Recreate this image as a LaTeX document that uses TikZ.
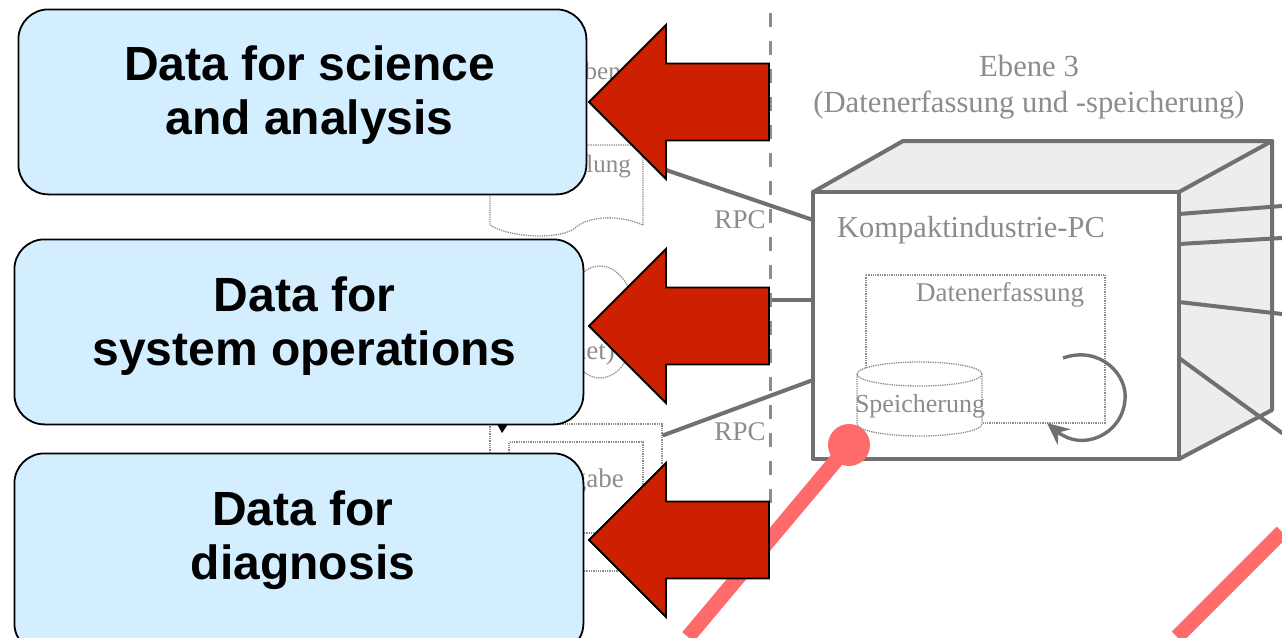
\documentclass[tikz,border=0pt]{standalone}
\usepackage{fontspec}
\setmainfont{Liberation Sans}
\newfontfamily\ghostfont{Liberation Serif}
\usepackage{tikz}
\usetikzlibrary{positioning, arrows.meta}

\definecolor{boxblue}{HTML}{D3EFFF}
\definecolor{arrowred}{HTML}{CC2000}
\definecolor{ghostgray}{HTML}{8C8C8C}
\definecolor{wiregray}{HTML}{707070}
\definecolor{facegray}{HTML}{EDEDED}
\definecolor{bandpink}{HTML}{FF6A6A}

\tikzset{
  databox/.style={draw=black, line width=1.8pt, fill=boxblue, rounded corners=30pt, inner sep=0pt, anchor=north west},
  datatext/.style={font=\bfseries\fontsize{48}{53.5}\selectfont, align=center, text=black, inner sep=0pt},
  ghost/.style={font=\ghostfont\fontsize{30.7}{35}\selectfont, text=ghostgray, inner sep=0pt, align=center},
  ghostsmall/.style={font=\ghostfont\fontsize{27}{32}\selectfont, text=ghostgray, inner sep=0pt},
  ghostline/.style={draw=ghostgray, line width=1.3pt, densely dotted},
  wire/.style={draw=wiregray, line width=4pt, line join=round, line cap=round},
  band/.style={draw=bandpink, line width=15pt},
}

\begin{document}
\begin{tikzpicture}[x=1pt, y=-1pt]
    \useasboundingbox (0,0) rectangle (1282,637);
    \clip (0,0) rectangle (1282,637);

    % Corners of the PC
    \coordinate (frontnw) at (813,192);
    \coordinate (frontne) at (1179,192);
    \coordinate (frontse) at (1179,459);
    \coordinate (frontsw) at (813,459);
    \coordinate (backnw) at (903,141);
    \coordinate (backne) at (1272,141);
    \coordinate (backse) at (1272,410);

    % Draw grey faces and outline
    \fill[facegray] (frontnw) -- (backnw) -- (backne) -- (frontne) -- cycle;
    \fill[facegray] (frontne) -- (backne) -- (backse) -- (frontse) -- cycle;
    \draw[wire] (frontnw) -- (backnw) -- (backne) -- (backse) -- (frontse);
    \draw[wire] (frontne) -- (backne);
    \draw[wire] (frontnw) rectangle (frontse);

    % Wires leaving the PC
    \foreach \a/\b/\c/\d in {1179/214/1282/206, 1179/244/1282/238, 1179/302/1282/314, 1179/358/1282/433, 813/220/666/170, 813/300/666/300, 813/380/664/435} {
      \draw[wire] (\a,\b) -- (\c,\d);
    }

    % Dashed border
    \draw[draw=ghostgray, line width=3pt, dash pattern=on 14pt off 14pt] (770.5,13) -- (770.5,505);

    % Texts of the old picture
    \node[ghost] (level) at (1029,87) {Ebene 3\\[1pt](Datenerfassung und -speicherung)};
    \node[ghostsmall, font=\ghostfont\fontsize{30.5}{34}\selectfont, anchor=west] (pcname) at (837,230) {Kompaktindustrie-PC};
    \node[ghostsmall, anchor=west] (acquire) at (916,295) {Datenerfassung};
    \node[ghostsmall] (rpcone) at (740,220) {RPC};
    \node[ghostsmall] (rpctwo) at (740,432) {RPC};
    \node[ghostsmall, font=\ghostfont\fontsize{25}{30}\selectfont, anchor=east] (levelleft) at (621,71) {Eben};
    \node[ghostsmall, font=\ghostfont\fontsize{25}{30}\selectfont, anchor=east] (docname) at (631,167) {dlung};
    \node[ghostsmall, anchor=east] (outname) at (624,481) {gabe};
    \node[ghostsmall, anchor=east] (netname) at (615,353) {net)};

    % Acquisition box with storage drum
    \draw[ghostline] (866,275) rectangle (1105,423);
    \fill[white] (857,374) rectangle (982,424);
    \fill[white] (919.5,424) ellipse [x radius=62.5, y radius=12];
    \draw[ghostline, fill=white] (919.5,374) ellipse [x radius=62.5, y radius=12];
    \draw[ghostline] (857,374) -- (857,424) arc [start angle=180, end angle=360, x radius=62.5, y radius=-12] -- (982,374);
    \node[ghostsmall, font=\ghostfont\fontsize{26}{30}\selectfont] (store) at (920,406) {Speicherung};
    \draw[draw=wiregray, line width=3.4pt, -{Stealth[length=22pt, width=20pt]}] (1063,358) .. controls (1100,345) and (1128,375) .. (1125,400) .. controls (1122,435) and (1082,452) .. (1047,423);

    % Left shapes
    \draw[ghostline] (586,145) -- (643,145) -- (643,225) .. controls (620,215) and (590,215) .. (575,228) .. controls (560,240) and (510,238) .. (490,225) -- (490,194);
    \draw[ghostline] (600,322) ellipse [x radius=36, y radius=56];
    \draw[ghostline] (490,453) -- (490,424) -- (662,424) -- (662,470);
    \draw[ghostline] (509,453) -- (509,442) -- (643,442) -- (643,490);
    \draw[ghostline] (584,533) -- (600,533);
    \draw[ghostline] (584,571) -- (625,571);
    \fill[black] (497,424) -- (508,424) -- (502,433) -- cycle;

    % Red bands
    \draw[band] (849,445) -- (688,637);
    \draw[band] (1282,532) -- (1177,637);
    \node[circle, fill=bandpink, minimum size=42pt, inner sep=0pt] (banddot) at (849,445) {};

    % Arrows pointing at the boxes
    \foreach \name/\y in {one/102, two/326, three/540} {
      \draw[draw=black, line width=1.8pt, fill=arrowred, line join=miter] (589,\y) -- (666,\y-77) -- (666,\y-38.5) -- (769,\y-38.5) -- (769,\y+38.5) -- (666,\y+38.5) -- (666,\y+77) -- cycle;
    }

    % Boxes and their texts
    \node[databox, minimum width=568pt, minimum height=185pt] (science) at (17.5,8.5) {};
    \node[databox, minimum width=569pt, minimum height=185pt] (operations) at (13.5,238.5) {};
    \node[databox, minimum width=569pt, minimum height=200pt] (diagnosis) at (13.5,452.5) {};
    \node[datatext] (sciencetext) at (309.5,95) {Data for science\\and analysis};
    \node[datatext] (operationstext) at (304.5,326) {Data for\\system operations};
    \node[datatext] (diagnosistext) at (303,540) {Data for\\diagnosis};
\end{tikzpicture}
\end{document}
